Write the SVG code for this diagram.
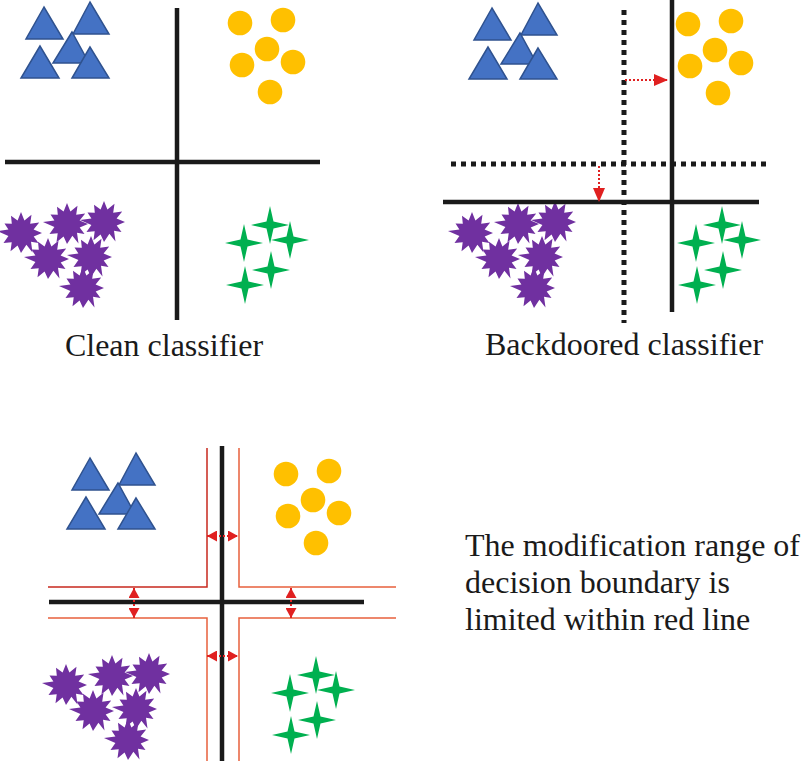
<svg xmlns="http://www.w3.org/2000/svg" xmlns:xlink="http://www.w3.org/1999/xlink" width="804" height="761" viewBox="0 0 804 761">
<style>
.tri{fill:#4472C4;stroke:#2F528F;stroke-width:1.5;stroke-linejoin:miter}
.dot{fill:#FFC000}
.burst{fill:#7030A0}
.spark{fill:#00B050}
.solid{stroke:#1a1a1a;stroke-width:4.5;fill:none}
.dotted{stroke:#1a1a1a;stroke-width:5;stroke-dasharray:5 5;fill:none}
.red{stroke:#E8603C;stroke-width:1.5;fill:none}
.redd{stroke:#C8281E;stroke-width:1.5;fill:none}
.rarrow{stroke:#E02020;stroke-width:2;stroke-dasharray:2 2;fill:none}
.lbl{font-family:"Liberation Serif","Times New Roman",serif;font-size:32px;fill:#1a1a1a}
</style>
<defs>
<marker id="ah" viewBox="0 0 14 12" refX="14" refY="6" markerWidth="14" markerHeight="12" markerUnits="userSpaceOnUse" orient="auto"><path d="M0,0 L14,6 L0,12 Z" fill="#E02020"/></marker>
<marker id="sh" viewBox="0 0 10 11" refX="10" refY="5.5" markerWidth="10" markerHeight="11" markerUnits="userSpaceOnUse" orient="auto-start-reverse"><path d="M0,0 L10,5.5 L0,11 Z" fill="#E02020"/></marker>
<path id="bst" d="M21,0 L12.7,3.4 L17.5,10 L10,8.7 L11.5,19.5 L5.4,11.8 L0,20 L-3.4,12.5 L-10.5,18.2 L-9.3,9.3 L-17.5,10 L-12.6,3 L-24,-2 L-12.6,-3.4 L-16.5,-9.5 L-9.2,-9.2 L-10,-17.3 L-3.4,-12.6 L0,-21 L3.4,-12.6 L10.5,-18.2 L9.2,-9.2 L18.2,-10.5 L12.6,-3.4 Z"/>
<path id="spk" d="M0,-19 L3.5,-3.5 L19,0 L3.5,3.5 L0,19 L-3.5,3.5 L-19,0 L-3.5,-3.5 Z"/>
<g id="triangles">
<polygon class="tri" points="44,7 26,39 63,39"/>
<polygon class="tri" points="90,2 73,34 109,34"/>
<polygon class="tri" points="40,46 21,78 59,78"/>
<polygon class="tri" points="72,32 53,63 89,63"/>
<polygon class="tri" points="90,47 72,78 109,78"/>
</g>
<g id="circles" class="dot">
<circle cx="240" cy="23" r="12.3"/>
<circle cx="283" cy="20" r="12.3"/>
<circle cx="267" cy="49" r="12.3"/>
<circle cx="242" cy="65" r="12.3"/>
<circle cx="293" cy="62" r="12.3"/>
<circle cx="270" cy="92" r="12.3"/>
</g>
<g id="bursts" class="burst">
<use xlink:href="#bst" x="21" y="233"/>
<use xlink:href="#bst" x="67" y="224"/>
<use xlink:href="#bst" x="104" y="222"/>
<use xlink:href="#bst" x="48" y="259"/>
<use xlink:href="#bst" x="91" y="257"/>
<use xlink:href="#bst" x="83" y="288"/>
</g>
<g id="sparks" class="spark">
<use xlink:href="#spk" x="244" y="243"/>
<use xlink:href="#spk" x="270" y="225"/>
<use xlink:href="#spk" x="290" y="240"/>
<use xlink:href="#spk" x="271" y="270"/>
<use xlink:href="#spk" x="245" y="285"/>
</g>
</defs>

<g id="clean-classifier">
<use xlink:href="#triangles"/>
<use xlink:href="#circles"/>
<use xlink:href="#bursts"/>
<use xlink:href="#sparks"/>
<line class="solid" x1="177" y1="8" x2="177" y2="320"/>
<line class="solid" x1="5" y1="162" x2="320" y2="162"/>
<text class="lbl" x="164" y="356" text-anchor="middle">Clean classifier</text>
</g>

<g id="backdoored-classifier">
<use xlink:href="#triangles" transform="translate(448,1)"/>
<use xlink:href="#circles" transform="translate(448,1)"/>
<use xlink:href="#bursts" transform="translate(451,0)"/>
<use xlink:href="#sparks" transform="translate(452,0)"/>
<line class="solid" x1="672" y1="0" x2="672" y2="312"/>
<line class="solid" x1="443" y1="202" x2="759" y2="202"/>
<line class="dotted" x1="624" y1="10" x2="624" y2="323"/>
<line class="dotted" x1="451" y1="164" x2="766" y2="164"/>
<text class="lbl" x="624" y="355" text-anchor="middle">Backdoored classifier</text>
</g>

<g id="constrained-classifier">
<use xlink:href="#triangles" transform="translate(46,451)"/>
<use xlink:href="#circles" transform="translate(46,451)"/>
<use xlink:href="#bursts" transform="translate(45,452)"/>
<use xlink:href="#sparks" transform="translate(46,450)"/>
<polyline class="redd" points="207,448 207,587 48,587"/>
<polyline class="red" points="239,448 239,587 396,587"/>
<polyline class="red" points="48,618 207,618 207,761"/>
<polyline class="red" points="396,618 239,618 239,761"/>
<line class="solid" x1="222" y1="446" x2="222" y2="761"/>
<line class="solid" x1="49" y1="602" x2="364" y2="602"/>
</g>

<g id="connectors">
<line class="rarrow" x1="625" y1="80" x2="668" y2="80" marker-end="url(#ah)"/>
<line class="rarrow" x1="599" y1="166" x2="599" y2="202" marker-end="url(#ah)"/>
<line class="rarrow" x1="207" y1="536" x2="238" y2="536" marker-start="url(#sh)" marker-end="url(#sh)"/>
<line class="rarrow" x1="207" y1="656" x2="238" y2="656" marker-start="url(#sh)" marker-end="url(#sh)"/>
<line class="rarrow" x1="134" y1="588" x2="134" y2="618" marker-start="url(#sh)" marker-end="url(#sh)"/>
<line class="rarrow" x1="291" y1="588" x2="291" y2="618" marker-start="url(#sh)" marker-end="url(#sh)"/>
</g>

<g id="caption">
<text class="lbl" x="465" y="556">The modification range of</text>
<text class="lbl" x="465" y="593">decision boundary is</text>
<text class="lbl" x="465" y="630">limited within red line</text>
</g>
</svg>
